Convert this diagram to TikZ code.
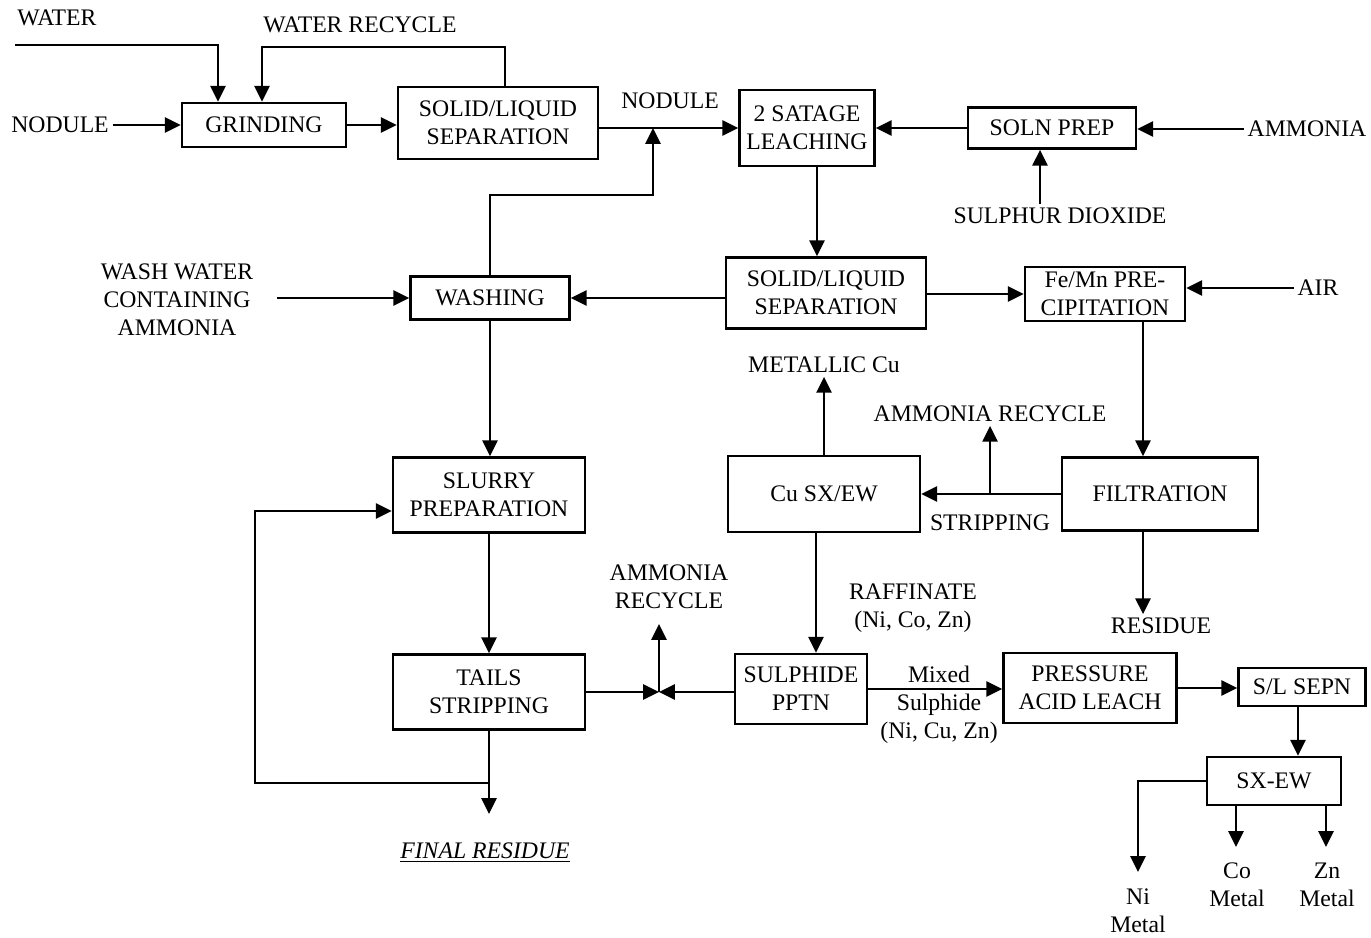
\documentclass[tikz,border=0pt]{standalone}
\usepackage{fontspec}
\setmainfont{Liberation Serif}
\usepackage{tikz}
\usetikzlibrary{arrows.meta,positioning}
\tikzset{procbox/.style={draw,rectangle,line width=1.5pt,align=center,inner sep=1pt},
    txt/.style={align=center,inner sep=2pt},
    pipe/.style={line width=1.5pt},
    flow/.style={line width=1.5pt,-{Triangle[length=9pt,width=8.5pt]}},
    every node/.style={font=\fontsize{13.5}{16}\selectfont}
}

\begin{document}
\begin{tikzpicture}[x=0.02cm,y=-0.02cm]

\useasboundingbox (0,0) rectangle (1371,937);

%% process units
\node (grind) at (264,125) [procbox,minimum width=3.28cm,minimum height=0.88cm] {GRINDING};
\node (sl1) at (498,123) [procbox,minimum width=4.0cm,minimum height=1.44cm] {SOLID/LIQUID\\SEPARATION};
\node (leach) at (807,128) [procbox,minimum width=2.7cm,minimum height=1.52cm] {2 SATAGE\\LEACHING};
\node (soln) at (1052,128) [procbox,minimum width=3.36cm,minimum height=0.82cm] {SOLN PREP};
\node (sl2) at (826,293) [procbox,minimum width=4.0cm,minimum height=1.42cm] {SOLID/LIQUID\\SEPARATION};
\node (femn) at (1105,294) [procbox,minimum width=3.2cm,minimum height=1.08cm] {Fe/Mn PRE-\\CIPITATION};
\node (wash) at (490,298) [procbox,minimum width=3.18cm,minimum height=0.86cm] {WASHING};
\node (slurry) at (489,495) [procbox,minimum width=3.84cm,minimum height=1.5cm] {SLURRY\\PREPARATION};
\node (cusx) at (824,494) [procbox,minimum width=3.84cm,minimum height=1.52cm] {Cu SX/EW};
\node (filt) at (1160,494) [procbox,minimum width=3.92cm,minimum height=1.46cm] {FILTRATION};
\node (tails) at (489,692) [procbox,minimum width=3.84cm,minimum height=1.5cm] {TAILS\\STRIPPING};
\node (sulph) at (801,689) [procbox,minimum width=2.64cm,minimum height=1.4cm] {SULPHIDE\\PPTN};
\node (pal) at (1090,688) [procbox,minimum width=3.46cm,minimum height=1.4cm] {PRESSURE\\ACID LEACH};
\node (slsepn) at (1302,687) [procbox,minimum width=2.54cm,minimum height=0.76cm] {S/L SEPN};
\node (sxew) at (1274,781) [procbox,minimum width=2.68cm,minimum height=0.96cm] {SX-EW};

%% streams in and out
\node (water) at (57,18) [txt] {WATER};
\node (wrec) at (360,25) [txt] {WATER RECYCLE};
\node (nodA) at (60,125) [txt] {NODULE};
\node (nodB) at (670,101) [txt] {NODULE};
\node (washw) at (177,300) [txt] {WASH WATER\\CONTAINING\\AMMONIA};
\node (so2) at (1060,216) [txt] {SULPHUR DIOXIDE};
\node (amm) at (1307,129) [txt] {AMMONIA};
\node (air) at (1318,288) [txt] {AIR};
\node (metcu) at (824,365) [txt] {METALLIC Cu};
\node (nhrecA) at (990,414) [txt] {AMMONIA RECYCLE};
\node (strip) at (990,523) [txt] {STRIPPING};
\node (nhrecB) at (669,587) [txt] {AMMONIA\\RECYCLE};
\node (raff) at (913,608) [txt] {RAFFINATE\\(Ni, Co, Zn)};
\node (resid) at (1161,626) [txt] {RESIDUE};
\node (mixed) at (939,705) [txt] {Mixed\\Sulphide\\(Ni, Cu, Zn)};
\node (finres) at (485,853) [txt] {\underline{\textit{FINAL RESIDUE}}};
\node (ni) at (1138,911) [txt] {Ni\\Metal};
\node (co) at (1237,885) [txt] {Co\\Metal};
\node (zn) at (1327,885) [txt] {Zn\\Metal};

%% free ends and bends
\coordinate (wsrc) at (15,45);
\coordinate (wdrop) at (218,45);
\coordinate (wrtop) at (262,47);
\coordinate (wjoin) at (653,195);
\coordinate (tjoin) at (659,692);
\coordinate (nhtip) at (659,624);
\coordinate (finarr) at (489,814);
\coordinate (loopc) at (489,783);
\coordinate (loopl) at (255,783);
\coordinate (nitip) at (1138,872);
\coordinate (cotip) at (1236,847);
\coordinate (zntip) at (1326,847);

% grinding circuit
\draw [flow] (wsrc) -- (wdrop) -- (wdrop |- grind.north);
\draw [flow] ([xshift=0.14cm]sl1.north) |- (wrtop) -- (wrtop |- grind.north);
\draw [flow] (nodA) -- (grind);
\draw [flow] (grind.east) -- (grind.east -| sl1.west);
\draw [flow] (sl1.east |- leach) -- (leach.west);
\draw [flow] (wash.north) |- (wjoin) -- (wjoin |- leach);

% leaching
\draw [flow] (soln) -- (leach);
\draw [flow] (amm.west) -- (amm.west -| soln.east);
\draw [flow] ([xshift=-0.4cm]so2.north) -- ([xshift=-0.4cm]so2.north |- soln.south);
\draw [flow] ([xshift=0.2cm]leach.south) -- ([xshift=0.2cm]leach.south |- sl2.north);
\draw [flow] (sl2.west |- wash) -- (wash.east);
\draw [flow] (sl2.east |- femn) -- (femn.west);
\draw [flow] (air.west) -- (air.west -| femn.east);
\draw [flow] ([xshift=0.4cm]washw.east |- wash) -- (wash.west);

% purification and copper
\draw [flow] ([xshift=0.76cm]femn.south) -- ([xshift=0.76cm]femn.south |- filt.north);
\draw [flow] ([xshift=-0.34cm]filt.south) -- ([xshift=-0.34cm]filt.south |- resid.north);
\draw [flow] (filt) -- (cusx);
\draw [flow] (filt.west -| nhrecA) -- (nhrecA.south);
\draw [flow] (cusx.north) -- (metcu.south);
\draw [flow] ([xshift=-0.16cm]cusx.south) -- ([xshift=-0.16cm]cusx.south |- sulph.north);

% tails
\draw [flow] (wash.south) -- (wash.south |- slurry.north);
\draw [flow] (slurry.south) -- (slurry.south |- tails.north);
\draw [flow] (tails.south) -- (finarr);
\draw [flow] (loopc) -- (loopl) |- ([yshift=-0.32cm]slurry.west);
\draw [flow] (tails.east) -- (tjoin);
\draw [flow] (sulph.west |- tjoin) -- (tjoin);
\draw [flow] (tjoin) -- (nhtip);

% nickel, cobalt, zinc
\draw [flow] (sulph.east) -- (sulph.east -| pal.west);
\draw [flow] (pal.east) -- (pal.east -| slsepn.west);
\draw [flow] ([xshift=-0.08cm]slsepn.south) -- ([xshift=-0.08cm]slsepn.south |- sxew.north);
\draw [flow] (sxew.west) -| (nitip);
\draw [flow] (sxew.south -| cotip) -- (cotip);
\draw [flow] (sxew.south -| zntip) -- (zntip);

\end{tikzpicture}
\end{document}
